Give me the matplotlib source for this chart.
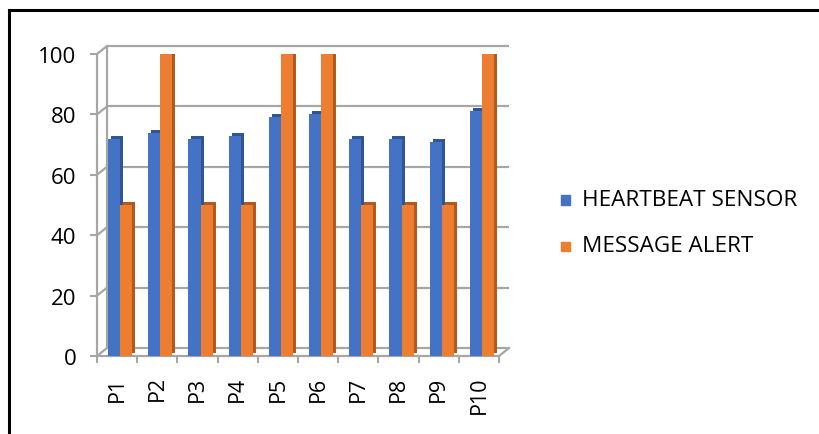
import numpy as np
import matplotlib.pyplot as plt
from matplotlib.lines import Line2D
from matplotlib.patches import Rectangle
from matplotlib import transforms

plt.rcParams['font.family'] = ['Open Sans', 'DejaVu Sans']

categories = ['P1', 'P2', 'P3', 'P4', 'P5', 'P6', 'P7', 'P8', 'P9', 'P10']
heartbeat = [72, 74, 72, 73, 79, 80, 72, 72, 71, 81]
alert = [50, 100, 50, 50, 100, 100, 50, 50, 50, 100]
series_names = ['HEARTBEAT SENSOR', 'MESSAGE ALERT']
yticks = [0, 20, 40, 60, 80, 100]

BLUE, BLUE_SIDE = '#4472C4', '#2F5597'
ORANGE, ORANGE_SIDE = '#ED7D31', '#B05A1E'
GRID = '#A6A6A6'

W, H = 819, 435
fig = plt.figure(figsize=(W / 100, H / 100), dpi=100)
ax = fig.add_axes([97 / W, (H - 357) / H, 402 / W, 302 / H])
n = len(categories)
ax.set_xlim(0, n)
ax.set_ylim(0, 100)
for s in ax.spines.values():
    s.set_visible(False)


def shift(px, py):
    # offset in pixels, used for the fake 3d depth
    return ax.transData + transforms.ScaledTranslation(px / 100, py / 100, fig.dpi_scale_trans)


# walls: back grid, side wall diagonals, floor
back = shift(10, 8)
ddx = 10 / (402 / n)
ddy = 8 / (302 / 100)
ax.hlines(yticks, 0, n, transform=back, color=GRID, lw=1.6, clip_on=False, zorder=1)
ax.vlines(0, 0, 100, transform=back, color=GRID, lw=1.6, clip_on=False, zorder=1)
ax.vlines(0, 0, 100, color=GRID, lw=1.6, clip_on=False, zorder=1)
ax.hlines(0, 0, n, color=GRID, lw=1.6, clip_on=False, zorder=1)
for t in yticks:
    ax.plot([0, ddx], [t, t + ddy], color=GRID, lw=1.6, clip_on=False, zorder=1)
ax.plot([n, n + ddx], [0, ddy], color=GRID, lw=1.6, clip_on=False, zorder=1)

# bars with a darker side face
x = np.arange(n)
ax.bar(x + 0.275, heartbeat, 0.3, align='edge', color=BLUE_SIDE, transform=shift(3, 3), zorder=2)
ax.bar(x + 0.275, heartbeat, 0.3, align='edge', color=BLUE, zorder=3)
ax.bar(x + 0.575, alert, 0.3, align='edge', color=ORANGE_SIDE, transform=shift(3, 3), zorder=4)
ax.bar(x + 0.575, alert, 0.3, align='edge', color=ORANGE, zorder=5)
ax.set_xlim(0, n)
ax.set_ylim(0, 100)

ax.set_yticks(yticks)
ax.tick_params(axis='y', length=5, width=1.5, color=GRID, pad=10, labelsize=16)
ax.set_xticks(x + 0.5, categories, rotation=90)
ax.set_xticks(np.arange(n + 1), minor=True)
ax.tick_params(axis='x', which='major', length=0, pad=14, labelsize=15.5)
ax.tick_params(axis='x', which='minor', length=5, width=1.5, color=GRID)

# legend
for i, (name, col) in enumerate(zip(series_names, [BLUE, ORANGE])):
    yc = 201 + 46 * i
    fig.add_artist(Rectangle((561 / W, 1 - (yc + 4.5) / H), 9 / W, 9 / H,
                             transform=fig.transFigure, color=col))
    fig.text(582 / W, 1 - yc / H, name, va='center', ha='left', fontsize=16.2)

# outer frame (top and left)
fig.add_artist(Line2D([9 / W, 1], [1 - 11 / H] * 2, color='black', lw=2.2))
fig.add_artist(Line2D([9 / W] * 2, [0, 1 - 11 / H], color='black', lw=2.2))

fig.savefig('out.png', dpi=100)
